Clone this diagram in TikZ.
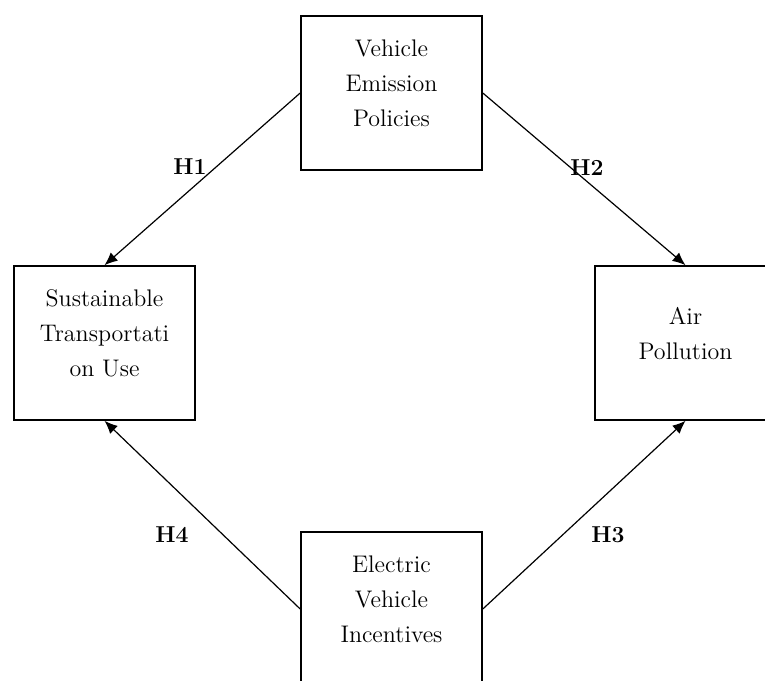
\documentclass[tikz,border=0pt]{standalone}
\usetikzlibrary{arrows.meta}

\begin{document}
\begin{tikzpicture}[x=0.5pt,y=-0.5pt,>={Latex[length=6.5pt,width=5.5pt]},
  var/.style={draw,line width=0.8pt,minimum width=90.5pt,minimum height=77pt,
    align=center,text depth=10pt,font=\fontsize{12}{17.5}\selectfont},
  hyp/.style={font=\bfseries\fontsize{11.5}{13}\selectfont,inner sep=1pt}]
  \useasboundingbox (0,0) rectangle (765,680);
  % constructs
  \node[var] (vep) at (391.5,93) {Vehicle\\Emission\\Policies};
  \node[var] (stu) at (104.5,343) {Sustainable\\Transportati\\on Use};
  \node[var] (ap) at (685.5,343) {Air\\Pollution};
  \node[var] (evi) at (391.5,609) {Electric\\Vehicle\\Incentives};
  % hypotheses
  \draw[->,line width=0.6pt] (vep.west) -- (stu.north);
  \draw[->,line width=0.6pt] (vep.east) -- (ap.north);
  \draw[->,line width=0.6pt] (evi.east) -- (ap.south);
  \draw[->,line width=0.6pt] (evi.west) -- (stu.south);
  \node[hyp] (h1) at (190,167) {H1};
  \node[hyp] (h2) at (587,168) {H2};
  \node[hyp] (h3) at (608,535) {H3};
  \node[hyp] (h4) at (172,535) {H4};
\end{tikzpicture}
\end{document}
